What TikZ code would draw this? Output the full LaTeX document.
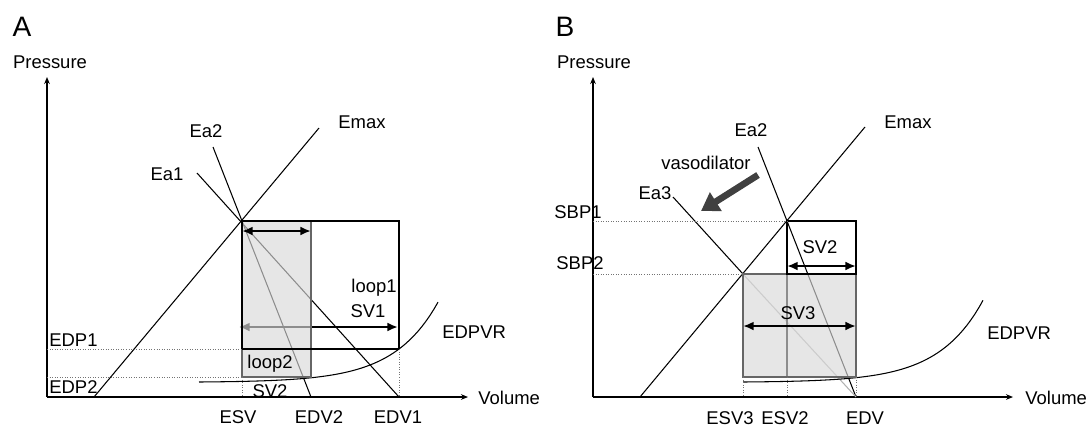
\documentclass[tikz,border=0pt]{standalone}
\usepackage{fontspec}
\setmainfont{Liberation Sans}
\usetikzlibrary{arrows.meta}

\begin{document}
\begin{tikzpicture}[x=0.02cm, y=-0.02cm, font=\fontsize{10.5}{12}\selectfont,
  lab/.style={inner sep=0pt},
  tag/.style={inner sep=0pt, font=\fontsize{16}{18}\selectfont},
  axis/.style={line width=0.6pt, -{Stealth[length=4pt,width=3.2pt]}},
  curve/.style={line width=0.6pt},
  guide/.style={black!55, densely dotted, line width=0.45pt},
  svarrow/.style={line width=1.5pt, {Latex[length=6pt,width=5pt]}-{Latex[length=6pt,width=5pt]}},
  loopbox/.style={fill=gray!30, fill opacity=0.65, draw=black!60, line width=0.6pt}]
\useasboundingbox (0,0) rectangle (1088,427);

% ---------------- panel A ----------------
\node[tag] (tagA) at (22,27) {A};
\node[lab] (pressA) at (50,62) {Pressure};
% axes
\coordinate (oA) at (47,397);
\draw[axis] (oA) -- (47,77);
\draw[axis] (oA) -- (468,397);
\node[lab, anchor=west] (volA) at (478,398) {Volume};
% Emax, Ea1, Ea2
\coordinate (esvA) at (242,221);
\coordinate (edvoneA) at (399,397);
\coordinate (edvtwoA) at (311,397);
\draw[curve] (94,397) -- (319,128);
\draw[curve] (197,173) -- (edvoneA);
\draw[curve] (213,147) -- (edvtwoA);
\node[lab] (emaxA) at (362,122) {Emax};
\node[lab] (eaoneA) at (167,174) {Ea1};
\node[lab] (eatwoA) at (206,131) {Ea2};
% SV1 arrow
\draw[svarrow] (239,327) -- (398,327);
% EDPVR
\draw[curve] plot[domain=199:438, samples=60] (\x,{382-0.37*(exp(0.0225*(\x-199))-1)});
\node[lab, anchor=west] (edpvrA) at (442,332) {EDPVR};
% loop2 (shaded)
\draw[loopbox] (esvA) rectangle (311,377);
% loop1
\draw[curve] (esvA) rectangle (399,349);
\draw[line width=1.4pt] (esvA) -- (242,349);
% SV2 arrow
\draw[svarrow] (242,231) -- (311,231);
% dotted guides
\draw[guide] (47,349) -- (242,349);
\draw[guide] (47,377) -- (242,377);
\draw[guide] (242,377) -- (242,397);
\draw[guide] (399,349) -- (edvoneA);
% texts
\node[lab] (loopone) at (374,288) {loop1};
\node[lab] (svone) at (368,311) {SV1};
\node[lab] (looptwo) at (270,364) {loop2};
\node[lab] (svtwoA) at (270,391) {SV2};
\node[lab, anchor=west] (edpone) at (49,340) {EDP1};
\node[lab, anchor=west] (edptwo) at (49,387) {EDP2};
\node[lab] (esvlabA) at (238,417) {ESV};
\node[lab] (edvtwolab) at (319,417) {EDV2};
\node[lab] (edvonelab) at (398,417) {EDV1};

% ---------------- panel B ----------------
\node[tag] (tagB) at (565,27) {B};
\node[lab] (pressB) at (594,62) {Pressure};
% axes
\coordinate (oB) at (593,397);
\draw[axis] (oB) -- (593,77);
\draw[axis] (oB) -- (1013,397);
\node[lab, anchor=west] (volB) at (1025,398) {Volume};
% Emax, Ea2, Ea3
\coordinate (sbpone) at (787,221);
\coordinate (sbptwo) at (743,274);
\coordinate (edvB) at (856,397);
\draw[curve] (640,397) -- (865,127);
\draw[curve] (758,147) -- (edvB);
\draw[curve] (673,197) -- (sbptwo);
\draw[curve, gray!60] (sbptwo) -- (edvB);
\draw[curve] (sbpone) -- (787,377);
\node[lab] (emaxB) at (908,122) {Emax};
\node[lab] (eatwoB) at (751,130) {Ea2};
\node[lab] (eathree) at (655,193) {Ea3};
% vasodilator
\node[lab] (vaso) at (706,163) {vasodilator};
\draw[black!75, line width=3.8pt, -{Triangle[length=10pt,width=12pt]}] (758,175) -- (701,211);
% EDPVR
\draw[curve] plot[domain=743:983, samples=60] (\x,{382-0.37*(exp(0.0225*(\x-743))-1)});
\node[lab, anchor=west] (edpvrB) at (987,333) {EDPVR};
% SV3 loop (shaded) and SV2 loop
\draw[loopbox] (sbptwo) rectangle (856,377);
\draw[curve] (sbpone) rectangle (856,274);
\draw[svarrow] (787,266) -- (856,266);
\draw[svarrow] (743,326) -- (856,326);
% dotted guides
\draw[guide] (593,221) -- (sbpone);
\draw[guide] (593,274) -- (sbptwo);
\draw[guide] (743,377) -- (743,397);
\draw[guide] (787,377) -- (787,397);
\draw[guide] (856,377) -- (edvB);
% texts
\node[lab] (svtwoB) at (820,247) {SV2};
\node[lab] (svthree) at (798,313) {SV3};
\node[lab] (sbponelab) at (578,212) {SBP1};
\node[lab] (sbptwolab) at (580,263) {SBP2};
\node[lab] (esvthree) at (730,418) {ESV3};
\node[lab] (esvtwo) at (785,418) {ESV2};
\node[lab] (edvlabB) at (865,418) {EDV};
\end{tikzpicture}
\end{document}
